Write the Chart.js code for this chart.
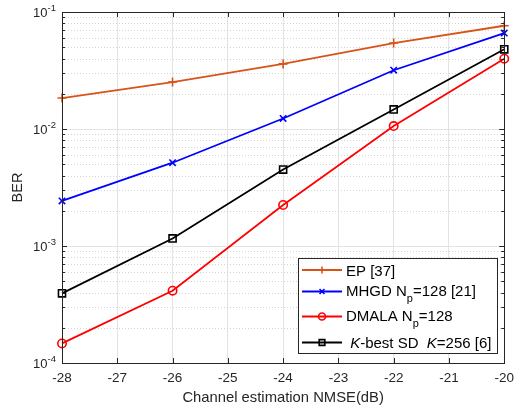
<!DOCTYPE html>
<html><head><meta charset="utf-8">
<script src="https://cdn.jsdelivr.net/npm/chart.js@4.4.0/dist/chart.umd.min.js"></script>
<style>html,body{margin:0;padding:0;background:#fff;}#wrap{width:521px;height:405px;position:relative;}</style>
</head><body><div id="wrap"><canvas id="c"></canvas></div>
<script>
const nmse = [-28, -26, -24, -22, -20];
const berEP = [0.0184, 0.0252, 0.036, 0.0543, 0.0763];
const berMHGD = [0.00243, 0.00515, 0.0123, 0.0318, 0.066];
const berDMALA = [0.000147, 0.000415, 0.00224, 0.0106, 0.0399];
const berKbest = [0.000394, 0.00116, 0.0045, 0.0147, 0.048];
const xTickValues = [-28, -27, -26, -25, -24, -23, -22, -21, -20];
const yDecades = [1e-4, 1e-3, 1e-2, 1e-1];
const yExponents = ['-4', '-3', '-2', '-1'];
const xTitle = 'Channel estimation NMSE(dB)';
const yTitle = 'BER';
// legend parts: [text, style] style: n normal, s subscript, i italic
const legendParts = [
  [['EP [37]', 'n']],
  [['MHGD N', 'n'], ['p', 's'], ['=128 [21]', 'n']],
  [['DMALA N', 'n'], ['p', 's'], ['=128', 'n']],
  [[' ', 'n'], ['K', 'i'], ['-best SD  ', 'n'], ['K', 'i'], ['=256 [6]', 'n']]
];
const seriesNames = ['EP [37]', 'MHGD Np=128 [21]', 'DMALA Np=128', 'K-best SD  K=256 [6]'];

const FONT = "'Liberation Sans', Arial, Helvetica, sans-serif";
const AX = '#262626';
function pts(arr){ return nmse.map((x,i)=>({x:x, y:arr[i]})); }

const colors = ['#D95319', '#0000FF', '#FF0000', '#000000'];
const styles = ['cross', 'crossRot', 'circle', 'rect'];
const radii = [4.5, 4.5, 4.2, 5];
const series = [berEP, berMHGD, berDMALA, berKbest];

const datasets = series.map((s,i)=>({
  label: seriesNames[i], data: pts(s), borderColor: colors[i], backgroundColor: 'rgba(0,0,0,0)',
  pointStyle: styles[i], pointRadius: radii[i], pointBorderWidth: 1.6, pointBackgroundColor: 'rgba(0,0,0,0)',
  pointBorderColor: colors[i], borderWidth: 1.8, tension: 0, clip: false
}));

function drawMarker(ctx, style, x, y, r, color){
  ctx.save(); ctx.strokeStyle = color; ctx.lineWidth = 1.6; ctx.beginPath();
  if (style==='cross'){ ctx.moveTo(x-r,y); ctx.lineTo(x+r,y); ctx.moveTo(x,y-r); ctx.lineTo(x,y+r); }
  else if (style==='crossRot'){ const d=r*0.7071; ctx.moveTo(x-d,y-d); ctx.lineTo(x+d,y+d); ctx.moveTo(x+d,y-d); ctx.lineTo(x-d,y+d); }
  else if (style==='circle'){ ctx.arc(x,y,r,0,Math.PI*2); }
  else if (style==='rect'){ const d=r*0.7071; ctx.rect(x-d,y-d,2*d,2*d); }
  ctx.stroke(); ctx.restore();
}

const matlabPlugin = {
  id: 'matlab',
  beforeDatasetsDraw(chart){
    const ctx = chart.ctx, a = chart.chartArea, ys = chart.scales.y;
    ctx.save(); ctx.strokeStyle = '#d4d4d4'; ctx.lineWidth = 1; ctx.setLineDash([1,2]);
    for (let i=0;i<yDecades.length-1;i++){
      for (let k=2;k<=9;k++){
        const py = Math.round(ys.getPixelForValue(k*yDecades[i]))+0.5;
        ctx.beginPath(); ctx.moveTo(a.left, py); ctx.lineTo(a.right, py); ctx.stroke();
      }
    }
    ctx.restore();
  },
  afterDraw(chart){
    const ctx = chart.ctx, a = chart.chartArea, ys = chart.scales.y, xs = chart.scales.x;
    ctx.save();
    ctx.strokeStyle = AX; ctx.lineWidth = 1;
    ctx.strokeRect(Math.round(a.left)+0.5, Math.round(a.top)+0.5, Math.round(a.right-a.left), Math.round(a.bottom-a.top));
    ctx.beginPath();
    xTickValues.forEach(v=>{ const px=Math.round(xs.getPixelForValue(v))+0.5;
      ctx.moveTo(px,a.bottom); ctx.lineTo(px,a.bottom-5); ctx.moveTo(px,a.top); ctx.lineTo(px,a.top+5); });
    for (let i=0;i<yDecades.length;i++){
      const py=Math.round(ys.getPixelForValue(yDecades[i]))+0.5;
      ctx.moveTo(a.left,py); ctx.lineTo(a.left+5,py); ctx.moveTo(a.right,py); ctx.lineTo(a.right-5,py);
      if (i<yDecades.length-1) for (let k=2;k<=9;k++){
        const q=Math.round(ys.getPixelForValue(k*yDecades[i]))+0.5;
        ctx.moveTo(a.left,q); ctx.lineTo(a.left+3,q); ctx.moveTo(a.right,q); ctx.lineTo(a.right-3,q);
      }
    }
    ctx.stroke();
    // y tick labels 10^n
    ctx.fillStyle = AX; ctx.textBaseline = 'alphabetic';
    yDecades.forEach((v,i)=>{
      const py = ys.getPixelForValue(v);
      ctx.font = '9.5px ' + FONT; const ew = ctx.measureText(yExponents[i]).width;
      const right = a.left - 6;
      ctx.textAlign = 'left';
      ctx.fillText(yExponents[i], right-ew, py-1);
      ctx.font = '13px ' + FONT; const bw = ctx.measureText('10').width;
      ctx.fillText('10', right-ew-bw, py+5);
    });
    // legend
    const L = {x: 298, y: 258, w: 199, h: 95};
    ctx.fillStyle = '#fff'; ctx.fillRect(L.x, L.y, L.w, L.h);
    ctx.strokeStyle = AX; ctx.lineWidth = 1; ctx.strokeRect(L.x+0.5, L.y+0.5, L.w, L.h);
    const rowsY = [270, 291.5, 316.5, 342.5];
    const rowDy = [5.5, 4.5, 4.5, 5];
    rowsY.forEach((ry,i)=>{
      ctx.strokeStyle = colors[i]; ctx.lineWidth = 1.8;
      ctx.beginPath(); ctx.moveTo(302, ry); ctx.lineTo(342, ry); ctx.stroke();
      drawMarker(ctx, styles[i], 322, ry, i===3?4:3.5, colors[i]);
      let tx = 346; ctx.fillStyle = '#000'; ctx.textAlign='left';
      legendParts[i].forEach(([t,st])=>{
        let f = '15px ' + FONT, dy = rowDy[i];
        if (st==='s'){ f = '11px ' + FONT; dy = 10.5; }
        if (st==='i'){ f = 'italic 15px ' + FONT; }
        ctx.font = f; ctx.fillText(t, tx, ry+dy); tx += ctx.measureText(t).width;
      });
    });
    ctx.restore();
  }
};

new Chart(document.getElementById('c'), {
  type: 'line',
  data: { datasets },
  options: {
    responsive: true, maintainAspectRatio: false, animation: false,
    layout: { padding: { top: 12, right: 13, left: 0, bottom: 0 } },
    plugins: { legend: { display: false }, tooltip: { enabled: false } },
    scales: {
      x: { type: 'linear', min: -28, max: -20,
        afterBuildTicks(s){ s.ticks = xTickValues.map(v=>({value:v})); },
        afterFit(s){ s.height = 42; },
        grid: { color: '#e3e3e3', drawTicks: false, lineWidth: 1 },
        border: { display: true, color: AX },
        ticks: { color: AX, font: { family: FONT, size: 13.5 }, padding: 7, maxRotation: 0, autoSkip: false,
          callback: v => String(v) },
        title: { display: true, text: xTitle, color: AX, font: { family: FONT, size: 14.8 }, padding: { top: 0, bottom: -2 } }
      },
      y: { type: 'logarithmic', min: 1e-4, max: 1e-1,
        afterBuildTicks(s){ s.ticks = yDecades.map(v=>({value:v})); },
        afterFit(s){ s.width = 62; },
        grid: { color: '#e3e3e3', drawTicks: false, lineWidth: 1 },
        border: { display: true, color: AX },
        ticks: { color: 'rgba(0,0,0,0)', font: { family: FONT, size: 12 }, callback: (v,i)=>'10' + yExponents[i] },
        title: { display: true, text: yTitle, color: AX, font: { family: FONT, size: 14.5 }, padding: { top: 9, bottom: 6 } }
      }
    }
  },
  plugins: [matlabPlugin]
});
</script></body></html>
